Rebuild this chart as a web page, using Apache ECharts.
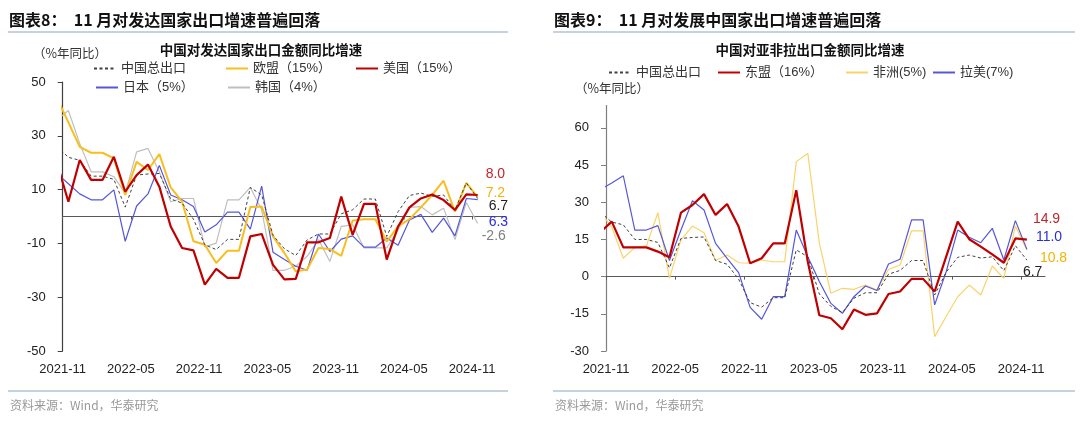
<!DOCTYPE html>
<html><head><meta charset="utf-8">
<script src="https://cdn.jsdelivr.net/npm/echarts@6/dist/echarts.min.js"></script>
<style>html,body{margin:0;padding:0;background:#fff}#c{width:1080px;height:431px}</style>
</head><body><div id="c"></div>
<script>
// months: index 0 (2021-10) lies just left of the plotted range and is clipped, as in the reference
const months = ['2021-10','2021-11','2021-12','2022-01','2022-02','2022-03','2022-04','2022-05','2022-06','2022-07','2022-08','2022-09','2022-10','2022-11','2022-12','2023-01','2023-02','2023-03','2023-04','2023-05','2023-06','2023-07','2023-08','2023-09','2023-10','2023-11','2023-12','2024-01','2024-02','2024-03','2024-04','2024-05','2024-06','2024-07','2024-08','2024-09','2024-10','2024-11'];
const tickLabels = ['2021-11','2022-05','2022-11','2023-05','2023-11','2024-05','2024-11'];
const leftYTicks = [-50,-30,-10,10,30,50];
const rightYTicks = [-30,-15,0,15,30,45,60];

const chinaTotal = [26,22.0,20.9,15.0,15.0,13.8,3.5,15.4,15.8,16.0,6.5,5.0,-1.0,-10.5,-12.3,-8.5,-8.5,10.8,8.0,-7.0,-12.0,-14.5,-8.7,-6.5,-6.5,1.0,2.5,6.5,6.5,-7.4,1.8,7.8,8.7,7.5,8.0,2.4,12.5,6.7];
const eu = [44,35,25.9,23.7,23.7,21.6,8.0,20.3,17.3,23.2,10.8,5.5,-9.2,-10.5,-17.3,-12.7,-12.7,3.5,3.7,-7.4,-13.6,-20.4,-19.7,-11.7,-12.1,-14.6,-1.5,-1.0,-1.0,-9.3,-3.7,-1.0,3.4,8.0,13.3,1.8,12.5,7.2];
const us = [19.8,5.5,21,13.6,13.6,22.2,9.2,15.4,19.3,11.1,-3.7,-11.7,-12.6,-25.3,-19.5,-22.8,-22.8,-7.4,-6.5,-18.0,-23.4,-23.2,-9.6,-9.6,-8.0,7.4,-6.8,4.7,4.7,-16.0,-3.7,3.4,6.7,8.2,6.1,2.4,8.2,8.0];
const japan = [16,12.2,8.4,6.2,6.2,9.9,-9.2,3.9,8.4,19.0,8.0,6.2,3.7,-5.8,-3.1,1.6,1.6,-4.7,11.3,-13.3,-16.0,-18.5,-20.0,-6.5,-13.0,-8.4,-7.2,-11.4,-11.4,-8.0,-10.7,-1.3,0.8,-5.9,-0.6,-7.2,6.7,6.3];
const korea = [36,39.4,27.1,16.6,16.6,14.8,8.6,24.0,25.3,16.6,5.5,6.7,6.7,-11.3,-9.9,6.2,6.2,10.8,2.5,-20.0,-20.0,-18.5,-14.8,-8.6,-16.7,-3.7,-3.1,-11.7,-11.7,-11.7,-5.0,3.4,3.7,0.6,3.1,-8.6,5.2,-2.6];
const asean = [17.9,22.2,11.8,11.8,11.8,10.1,7.8,25.8,28.9,33.3,24.9,29.3,20.2,5.4,7.4,13.4,13.4,34.9,6.0,-15.6,-16.8,-21.2,-13.3,-15.4,-14.8,-7.0,-6.0,-0.9,-0.9,-6.0,8.1,22.2,15.1,12.1,9.0,5.6,15.4,14.9];
const africa = [26,20,7.4,11.8,12.4,25.8,-0.7,14.8,20.4,17.7,6.5,8.7,5.6,5.4,6.7,6.0,6.0,46.4,49.7,13.5,-6.7,-4.7,-5.1,-3.4,-5.4,2.9,4.7,18.5,18.5,-24.2,-16.1,-8.1,-3.4,-7.4,4.3,-0.7,20.4,10.8];
const latam = [35.1,37.8,40.7,18.8,18.8,20.6,6.5,18.8,30.6,26.9,13.4,7.4,1.6,-12.4,-17.2,-8.1,-8.1,18.8,8.0,-2.0,-10.8,-14.8,-8.1,-3.8,-5.6,5.1,7.0,22.9,22.9,-11.4,2.0,18.8,15.9,13.7,19.5,6.7,22.6,11.0];

const FONT = '"Liberation Sans", "Noto Sans CJK SC", sans-serif';
const CJK = '"Noto Sans CJK SC", "Liberation Sans", sans-serif';
const origin = months.indexOf('2021-11');
const pairs = arr => arr.map((v, i) => [i - origin, v]);
const xTicks = tickLabels.map(t => months.indexOf(t) - origin - 0.5);
const xFmt = v => tickLabels[Math.round((v + 0.5) / 6)] || '';

function labelAxis(g, max) {
  return {gridIndex: g, type: 'value', min: -0.5, max: max, position: 'bottom',
    axisLine: {show: false, onZero: false}, axisTick: {show: false}, splitLine: {show: false},
    axisLabel: {customValues: xTicks, formatter: xFmt, margin: 12, fontSize: 13, color: '#222', fontFamily: FONT}};
}
function zeroAxis(g, max) {
  return {gridIndex: g, type: 'value', min: -0.5, max: max, position: 'top',
    axisLine: {show: true, onZero: true, lineStyle: {color: '#595959', width: 1.2}},
    axisTick: {show: true, inside: true, length: 3, customValues: xTicks, lineStyle: {color: '#595959'}},
    axisLabel: {show: false}, splitLine: {show: false}};
}
function yAxisDef(g, min, max, ticks, color) {
  return {gridIndex: g, type: 'value', min: min, max: max,
    axisLine: {show: true, onZero: false, lineStyle: {color: color, width: 1.2}},
    axisTick: {show: true, length: 5, customValues: ticks, lineStyle: {color: color}},
    axisLabel: {customValues: ticks, margin: 17, fontSize: 13, color: '#222', fontFamily: FONT},
    splitLine: {show: false}};
}
function line(name, data, xi, yi, color, width, endColor, offset, dashed) {
  return {name: name, type: 'line', xAxisIndex: xi, yAxisIndex: yi, data: pairs(data),
    symbol: 'none', clip: true,
    lineStyle: {color: color, width: width, type: dashed ? [3, 2.5] : 'solid'},
    itemStyle: {color: color},
    endLabel: {show: true, formatter: p => p.value[1].toFixed(1), color: endColor,
      fontSize: 14, fontFamily: FONT, offset: offset}};
}
function legendItem(name, left, top) {
  return {data: [name], left: left, top: top, padding: 0, itemWidth: 22, itemHeight: 10,
    itemStyle: {opacity: 0, borderWidth: 0},
    textStyle: {fontSize: 13, color: '#333', fontFamily: FONT}};
}
function txt(x, y, text, font, fill, align) {
  return {type: 'text', x: x, y: y, silent: true,
    style: {text: text, font: font, fill: fill, align: align || 'left', verticalAlign: 'middle'}};
}
function rule(x1, x2, y) {
  return {type: 'line', silent: true, shape: {x1: x1, y1: y, x2: x2, y2: y}, style: {stroke: '#8aa5c6', lineWidth: 1.2}};
}

const chart = echarts.init(document.getElementById('c'));
chart.setOption({
  animation: false,
  backgroundColor: '#fff',
  grid: [
    {left: 62.7, right: 574, top: 82, bottom: 80},
    {left: 606, right: 35, top: 105.6, bottom: 80}
  ],
  xAxis: [labelAxis(0, 38.49), zeroAxis(0, 38.49), labelAxis(1, 37.57), zeroAxis(1, 37.57)],
  yAxis: [yAxisDef(0, -50, 50, leftYTicks, '#404040'), yAxisDef(1, -30, 69, rightYTicks, '#7f7f7f')],
  legend: [
    legendItem('中国总出口', 93, 62), legendItem('欧盟（15%）', 225, 62), legendItem('美国（15%）', 355, 62),
    legendItem('日本（5%）', 95, 81), legendItem('韩国（4%）', 227, 81),
    legendItem('中国总出口', 608, 66), legendItem('东盟（16%）', 717, 66), legendItem('非洲(5%)', 845, 66), legendItem('拉美(7%)', 932, 66)
  ],
  series: [
    line('韩国（4%）', korea, 0, 0, '#bfbfbf', 1.2, '#808080', [-4, 13]),
    line('日本（5%）', japan, 0, 0, '#5656dc', 1.2, '#2b2be0', [3, 23]),
    line('欧盟（15%）', eu, 0, 0, '#f7be1e', 2, '#f5b400', [0, -4]),
    line('中国总出口', chinaTotal, 0, 0, '#404040', 1, '#222', [3, 7.5], true),
    line('美国（15%）', us, 0, 0, '#c00000', 2.2, '#c0262c', [0, -21]),
    line('非洲(5%)', africa, 2, 1, '#f9d36a', 1.2, '#f5b400', [5, 8]),
    line('拉美(7%)', latam, 2, 1, '#5656dc', 1.2, '#2b2be0', [1, -12]),
    line('中国总出口', chinaTotal, 2, 1, '#404040', 1, '#222', [-12, 12], true),
    line('东盟（16%）', asean, 2, 1, '#c00000', 2.2, '#c0262c', [-2, -21])
  ],
  graphic: [
    txt(9, 20, '图表8：  11 月对发达国家出口增速普遍回落', 'bold 16px ' + CJK, '#111'),
    rule(8, 508, 32),
    txt(261, 50, '中国对发达国家出口金额同比增速', 'bold 13.5px ' + CJK, '#111', 'center'),
    txt(33, 53, '（%年同比）', '12.5px ' + CJK, '#333'),
    rule(8, 508, 391),
    txt(10, 405, '资料来源：Wind，华泰研究', '12px ' + CJK, '#999'),
    txt(554, 20, '图表9：  11 月对发展中国家出口增速普遍回落', 'bold 16px ' + CJK, '#111'),
    rule(553, 1075, 32),
    txt(810, 50, '中国对亚非拉出口金额同比增速', 'bold 13.5px ' + CJK, '#111', 'center'),
    txt(575, 88, '（%年同比）', '12.5px ' + CJK, '#333'),
    rule(553, 1075, 391),
    txt(555, 405, '资料来源：Wind，华泰研究', '12px ' + CJK, '#999')
  ]
});
</script></body></html>
